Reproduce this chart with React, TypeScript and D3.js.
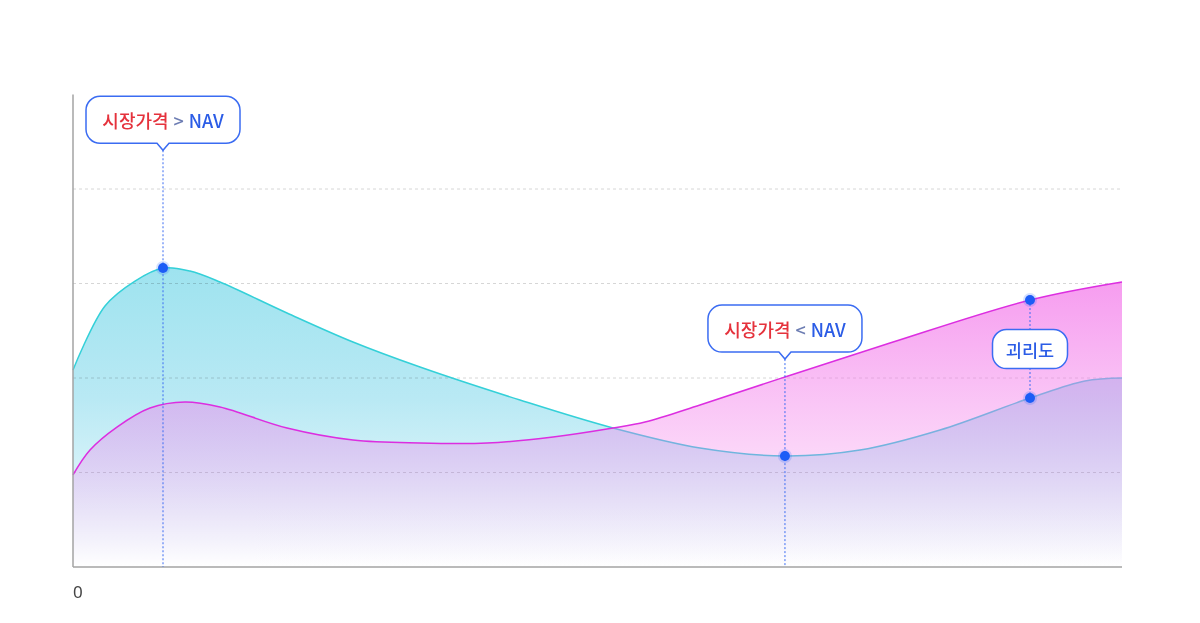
import React from 'react';
import * as d3 from 'd3';

// ---------- data ----------
// x positions (0-100 along the time axis) and values for each series
const marketX = [0, 3.05, 5.91, 8.58, 11.15, 14.01, 20.4, 26.69, 33.08, 42.61, 51.48, 59.77, 67.87, 75.02, 82.65, 91.23, 96.47, 100];
const marketPrice = [2.085, 2.762, 3.026, 3.164, 3.132, 3.016, 2.688, 2.381, 2.116, 1.767, 1.471, 1.259, 1.175, 1.238, 1.45, 1.788, 1.968, 2.0];

const navX = [0, 1.62, 4.19, 7.34, 10.68, 14.01, 20.4, 26.69, 33.08, 39.47, 45.76, 51.48, 54.53, 59.77, 67.87, 77.88, 91.23, 100];
const navValue = [0.974, 1.238, 1.481, 1.683, 1.746, 1.693, 1.471, 1.344, 1.312, 1.312, 1.376, 1.471, 1.534, 1.714, 2.011, 2.37, 2.825, 3.016];

const gridValues = [1, 2, 3, 4];
const xTickLabels = ['0'];

// callouts: index into market series, label parts, tip value
const calloutIndex = [3, 12];
const calloutLabels = [
  ['시장가격', '>', 'NAV'],
  ['시장가격', '<', 'NAV'],
];
const calloutTip = [4.41, 2.2];

// gap annotation: market index and nav index at the same x
const gapMarketIndex = 15;
const gapNavIndex = 16;
const gapLabel = '괴리도';

// ---------- layout ----------
const W = 1200;
const H = 623;
const plot = { left: 73, right: 1122, top: 94.5, bottom: 567 };
const FONT = "'Noto Sans CJK KR', 'Noto Sans', sans-serif";

const x = d3.scaleLinear().domain([0, 100]).range([plot.left, plot.right]);
const y = d3.scaleLinear().domain([0, 5]).range([plot.bottom, plot.top]);

const marketPts: [number, number][] = marketX.map((v, i) => [v, marketPrice[i]]);
const navPts: [number, number][] = navX.map((v, i) => [v, navValue[i]]);

const curve = d3.curveCatmullRom.alpha(0.5);
const areaGen = d3
  .area<[number, number]>()
  .x((d) => x(d[0]))
  .y0(y(0))
  .y1((d) => y(d[1]))
  .curve(curve);
const lineGen = d3
  .line<[number, number]>()
  .x((d) => x(d[0]))
  .y((d) => y(d[1]))
  .curve(curve);

function calloutPath(cx: number, tipY: number, w: number, h: number, r: number, pw: number, ph: number) {
  const bottom = tipY - ph;
  const top = bottom - h;
  const left = cx - w / 2;
  const right = cx + w / 2;
  return `M${left + r},${top} H${right - r} A${r},${r} 0 0 1 ${right},${top + r} V${bottom - r} A${r},${r} 0 0 1 ${right - r},${bottom} H${cx + pw / 2} L${cx},${tipY} L${cx - pw / 2},${bottom} H${left + r} A${r},${r} 0 0 1 ${left},${bottom - r} V${top + r} A${r},${r} 0 0 1 ${left + r},${top} Z`;
}

function Dot({ cx, cy }: { cx: number; cy: number }) {
  return (
    <g>
      <circle cx={cx} cy={cy} r={7} fill="#2a66ff" opacity={0.2} />
      <circle cx={cx} cy={cy} r={5} fill="#1c5cf6" />
    </g>
  );
}

export default function App() {
  const blue = '#3b6cf2';
  const boxW = 154;
  const boxH = 47;

  const gapX = x(marketX[gapMarketIndex]);
  const gapTop = y(navValue[gapNavIndex]);
  const gapBottom = y(marketPrice[gapMarketIndex]);
  const gapMid = (gapTop + gapBottom) / 2;

  return (
    <svg
      width={W}
      height={H}
      viewBox={`0 0 ${W} ${H}`}
      style={{ position: 'absolute', left: 0, top: 0, background: '#fff' }}
      fontFamily={FONT}
    >
      <defs>
        <linearGradient id="gMarket" x1="0" y1="0" x2="0" y2="1">
          <stop offset="0" stopColor="#9ee3ef" />
          <stop offset="0.44" stopColor="#b9e9f4" />
          <stop offset="0.6" stopColor="#cbeff7" />
          <stop offset="0.78" stopColor="#e3f6fa" />
          <stop offset="1" stopColor="#ffffff" />
        </linearGradient>
        <linearGradient id="gNav" x1="0" y1="0" x2="0" y2="1">
          <stop offset="0" stopColor="#f37aea" stopOpacity={0.74} />
          <stop offset="0.41" stopColor="#f37aea" stopOpacity={0.44} />
          <stop offset="0.66" stopColor="#f37aea" stopOpacity={0.27} />
          <stop offset="0.9" stopColor="#f37aea" stopOpacity={0.08} />
          <stop offset="1" stopColor="#f37aea" stopOpacity={0} />
        </linearGradient>
      </defs>

      {/* grid */}
      {gridValues.map((v) => (
        <line
          key={v}
          x1={plot.left}
          x2={plot.right}
          y1={y(v)}
          y2={y(v)}
          stroke="#d6d6d6"
          strokeWidth={1}
          strokeDasharray="3 3"
        />
      ))}

      {/* market price area + line */}
      <path d={areaGen(marketPts) || ''} fill="url(#gMarket)" style={{ mixBlendMode: 'multiply' }} />
      <path d={lineGen(marketPts) || ''} fill="none" stroke="#34d0d8" strokeWidth={1.5} />

      {/* NAV area + line */}
      <path d={areaGen(navPts) || ''} fill="url(#gNav)" />
      <path d={lineGen(navPts) || ''} fill="none" stroke="#dc2ee0" strokeWidth={1.5} />

      {/* axes */}
      <line x1={plot.left} x2={plot.left} y1={plot.top} y2={plot.bottom} stroke="#a3a3a3" strokeWidth={1.5} />
      <line x1={plot.left} x2={plot.right} y1={plot.bottom} y2={plot.bottom} stroke="#a3a3a3" strokeWidth={1.5} />
      {xTickLabels.map((t, i) => (
        <text key={i} x={plot.left} y={598} fontSize={17} fill="#444" fontFamily="'Noto Sans', sans-serif">
          {t}
        </text>
      ))}

      {/* callouts */}
      {calloutIndex.map((idx, i) => {
        const cx = x(marketX[idx]);
        const tipY = y(calloutTip[i]);
        const top = tipY - 7 - boxH;
        const parts = calloutLabels[i];
        return (
          <g key={i}>
            <line x1={cx} x2={cx} y1={tipY} y2={plot.bottom} stroke={blue} strokeWidth={1} strokeDasharray="2 2" />
            <path d={calloutPath(cx, tipY, boxW, boxH, 14, 12, 7)} fill="#fff" stroke={blue} strokeWidth={1.5} />
            <text x={cx} y={top + boxH / 2} textAnchor="middle" dominantBaseline="central" fontSize={18} fontWeight={500}>
              <tspan fill="#e5323c">{parts[0]}</tspan>
              <tspan fill="#6d7db3" dx={5}>{parts[1]}</tspan>
              <tspan fill="#2b5ce6" dx={5}>{parts[2]}</tspan>
            </text>
            <Dot cx={cx} cy={y(marketPrice[idx])} />
          </g>
        );
      })}

      {/* gap annotation */}
      <line x1={gapX} x2={gapX} y1={gapTop} y2={gapBottom} stroke={blue} strokeWidth={1} strokeDasharray="2 2" />
      <rect x={gapX - 37.5} y={gapMid - 19.5} width={75} height={39} rx={14} fill="#fff" stroke={blue} strokeWidth={1.5} />
      <text x={gapX} y={gapMid} textAnchor="middle" dominantBaseline="central" fontSize={17.5} fontWeight={500} fill="#2b5ce6">
        {gapLabel}
      </text>
      <Dot cx={gapX} cy={gapTop} />
      <Dot cx={gapX} cy={gapBottom} />
    </svg>
  );
}
